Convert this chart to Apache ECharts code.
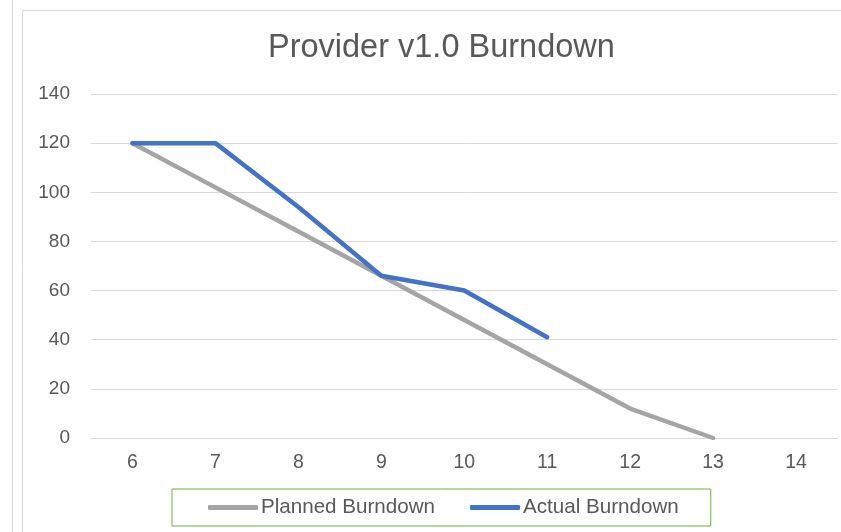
<!DOCTYPE html>
<html><head><meta charset="utf-8">
<script src="https://cdn.jsdelivr.net/npm/echarts@6/dist/echarts.min.js"></script>
<style>html,body{margin:0;padding:0;background:#fff}#c{width:841px;height:532px}</style>
</head><body><div id="c"></div>
<script>
const categories = ['6','7','8','9','10','11','12','13','14'];
const planned = [120, 102, 84, 66, 48, 30, 12, 0, null];
const actual = [120, 120, 94, 66, 60, 41, null, null, null];
const titleText = 'Provider v1.0 Burndown';
const seriesNames = ['Planned Burndown', 'Actual Burndown'];

const chart = echarts.init(document.getElementById('c'));
const font = 'Liberation Sans, Arial, sans-serif';
chart.setOption({
  animation: false,
  backgroundColor: '#fff',
  graphic: [
    {type:'line', shape:{x1:12.5,y1:0,x2:12.5,y2:532}, style:{stroke:'#d9d9d9', lineWidth:1}},
    {type:'rect', shape:{x:22.5,y:10.5,width:830,height:530}, style:{fill:null, stroke:'#d9d9d9', lineWidth:1}}
  ],
  title: {
    text: titleText, left: 268, top: 32, padding: 0,
    textStyle: {fontFamily: font, fontSize: 32.5, fontWeight: 'normal', color: '#595959'}
  },
  legend: {
    left: 172, bottom: 6,
    data: seriesNames,
    itemWidth: 50, itemHeight: 5, itemGap: 35,
    icon: 'roundRect',
    borderColor: '#70AD47', borderWidth: 1,
    padding: [8, 32, 8, 36],
    textStyle: {fontFamily: font, fontSize: 20.6, color: '#595959', padding:[0,0,0,-2]}
  },
  grid: {left: 91, right: 3.5, top: 94, bottom: 94},
  xAxis: {
    type: 'category', data: categories, boundaryGap: true,
    axisLine: {show: true, lineStyle: {color: '#d9d9d9'}},
    axisTick: {show: false},
    axisLabel: {fontFamily: font, fontSize: 19.5, color: '#595959', margin: 15}
  },
  yAxis: {
    type: 'value', min: 0, max: 140, interval: 20,
    axisLine: {show: false}, axisTick: {show: false},
    splitLine: {lineStyle: {color: '#d9d9d9', width: 1}},
    axisLabel: {fontFamily: font, fontSize: 19, color: '#595959', margin: 21}
  },
  series: [
    {name: seriesNames[0], type: 'line', data: planned, symbol: 'none',
     lineStyle: {color: '#A5A5A5', width: 4.5, cap: 'round', join: 'round'}, itemStyle:{color:'#A5A5A5'}},
    {name: seriesNames[1], type: 'line', data: actual, symbol: 'none',
     lineStyle: {color: '#4472C4', width: 4.5, cap: 'round', join: 'round'}, itemStyle:{color:'#4472C4'}}
  ]
});
</script></body></html>
